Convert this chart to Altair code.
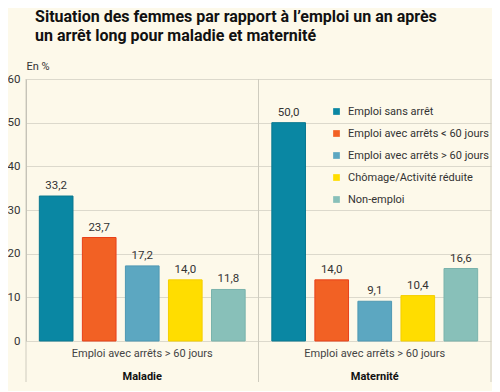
import altair as alt
import pandas as pd

groups = ["Maladie", "Maternité"]
categories = ["Emploi sans arrêt", "Emploi avec arrêts < 60 jours",
              "Emploi avec arrêts > 60 jours", "Chômage/Activité réduite", "Non-emploi"]
maladie = [33.2, 23.7, 17.2, 14.0, 11.8]
maternite = [50.0, 14.0, 9.1, 10.4, 16.6]
colors = ["#0a87a3", "#f26124", "#5ca7c1", "#ffdd00", "#88c0b9"]
strokes = ["#0a7890", "#e8401a", "#4f98b3", "#f5cf00", "#7ab3ac"]
sub_label = "Emploi avec arrêts > 60 jours"

rows = []
for g, vals in zip(groups, [maladie, maternite]):
    for c, v in zip(categories, vals):
        rows.append({"group": g, "category": c, "value": v})
df = pd.DataFrame(rows)
gdf = pd.DataFrame({"group": groups, "sub": [sub_label] * 2})

FONT = "Roboto, Liberation Sans, sans-serif"
W, H = 465, 262

xg = alt.X("group:N", sort=groups, axis=None,
           scale=alt.Scale(paddingInner=0, paddingOuter=0))
xo = alt.XOffset("category:N", sort=categories,
                 scale=alt.Scale(paddingInner=0.218, paddingOuter=0.31))

base = alt.Chart(df)
bars = base.mark_bar(strokeWidth=1).encode(
    x=xg,
    xOffset=xo,
    y=alt.Y("value:Q", scale=alt.Scale(domain=[0, 60]),
            axis=alt.Axis(values=[0, 10, 20, 30, 40, 50, 60], title="En %",
                          titleAngle=0, titleX=0, titleY=-13, titleAlign="left",
                          titleBaseline="middle", titleFont=FONT, titleFontSize=11,
                          titleFontWeight="normal", titleColor="#333",
                          labelFont=FONT, labelFontSize=11.5, labelColor="#333",
                          labelPadding=6, ticks=False, domainColor="#bdbab0",
                          gridColor="#dcd9cc", grid=True)),
    color=alt.Color("category:N", sort=categories,
                    scale=alt.Scale(domain=categories, range=colors),
                    legend=alt.Legend(title=None, orient="none", legendX=305, legendY=27,
                                      symbolType="square", symbolSize=45,
                                      symbolStrokeWidth=0, labelFont=FONT,
                                      labelFontSize=11, labelColor="#333",
                                      rowPadding=10, labelOffset=6)),
    stroke=alt.Stroke("category:N", sort=categories,
                      scale=alt.Scale(domain=categories, range=strokes), legend=None),
)

labels = base.transform_calculate(
    lab="replace(format(datum.value, '.1f'), '.', ',')"
).mark_text(baseline="bottom", dy=-5, font=FONT, fontSize=11.5, color="#333").encode(
    x=xg,
    xOffset=xo,
    y=alt.Y("value:Q"),
    text="lab:N",
)

gbase = alt.Chart(gdf)
left_rules = gbase.mark_rule(color="#cfccbf", strokeWidth=1).encode(
    x=alt.X("group:N", sort=groups, bandPosition=0, axis=None,
            scale=alt.Scale(paddingInner=0, paddingOuter=0)),
    y=alt.value(0), y2=alt.value(303))
right_rules = gbase.mark_rule(color="#cfccbf", strokeWidth=1).encode(
    x=alt.X("group:N", sort=groups, bandPosition=1, axis=None,
            scale=alt.Scale(paddingInner=0, paddingOuter=0)),
    y=alt.value(0), y2=alt.value(303))
sub_text = gbase.mark_text(font=FONT, fontSize=11, color="#444", baseline="middle").encode(
    x=xg, y=alt.value(275), text="sub:N")
grp_text = gbase.mark_text(font=FONT, fontSize=11, fontWeight="bold", color="#111",
                           baseline="middle").encode(
    x=xg, y=alt.value(298), text="group:N")

chart = alt.layer(left_rules, right_rules, bars, labels, sub_text, grp_text).properties(
    width=W, height=H,
    title=alt.TitleParams(
        ["Situation des femmes par rapport à l’emploi un an après",
         "un arrêt long pour maladie et maternité"],
        anchor="start", dx=28, offset=16, font=FONT, fontSize=16, fontWeight="bold",
        color="#111", lineHeight=19),
    autosize=alt.AutoSizeParams(type="none"),
    padding={"left": 18, "top": 71, "right": 1, "bottom": 50},
    background="#fdf9ea",
).configure_view(stroke=None).configure_axis(domainColor="#bdbab0")

chart.save("out.html", embed_options={"renderer": "svg", "actions": False})
